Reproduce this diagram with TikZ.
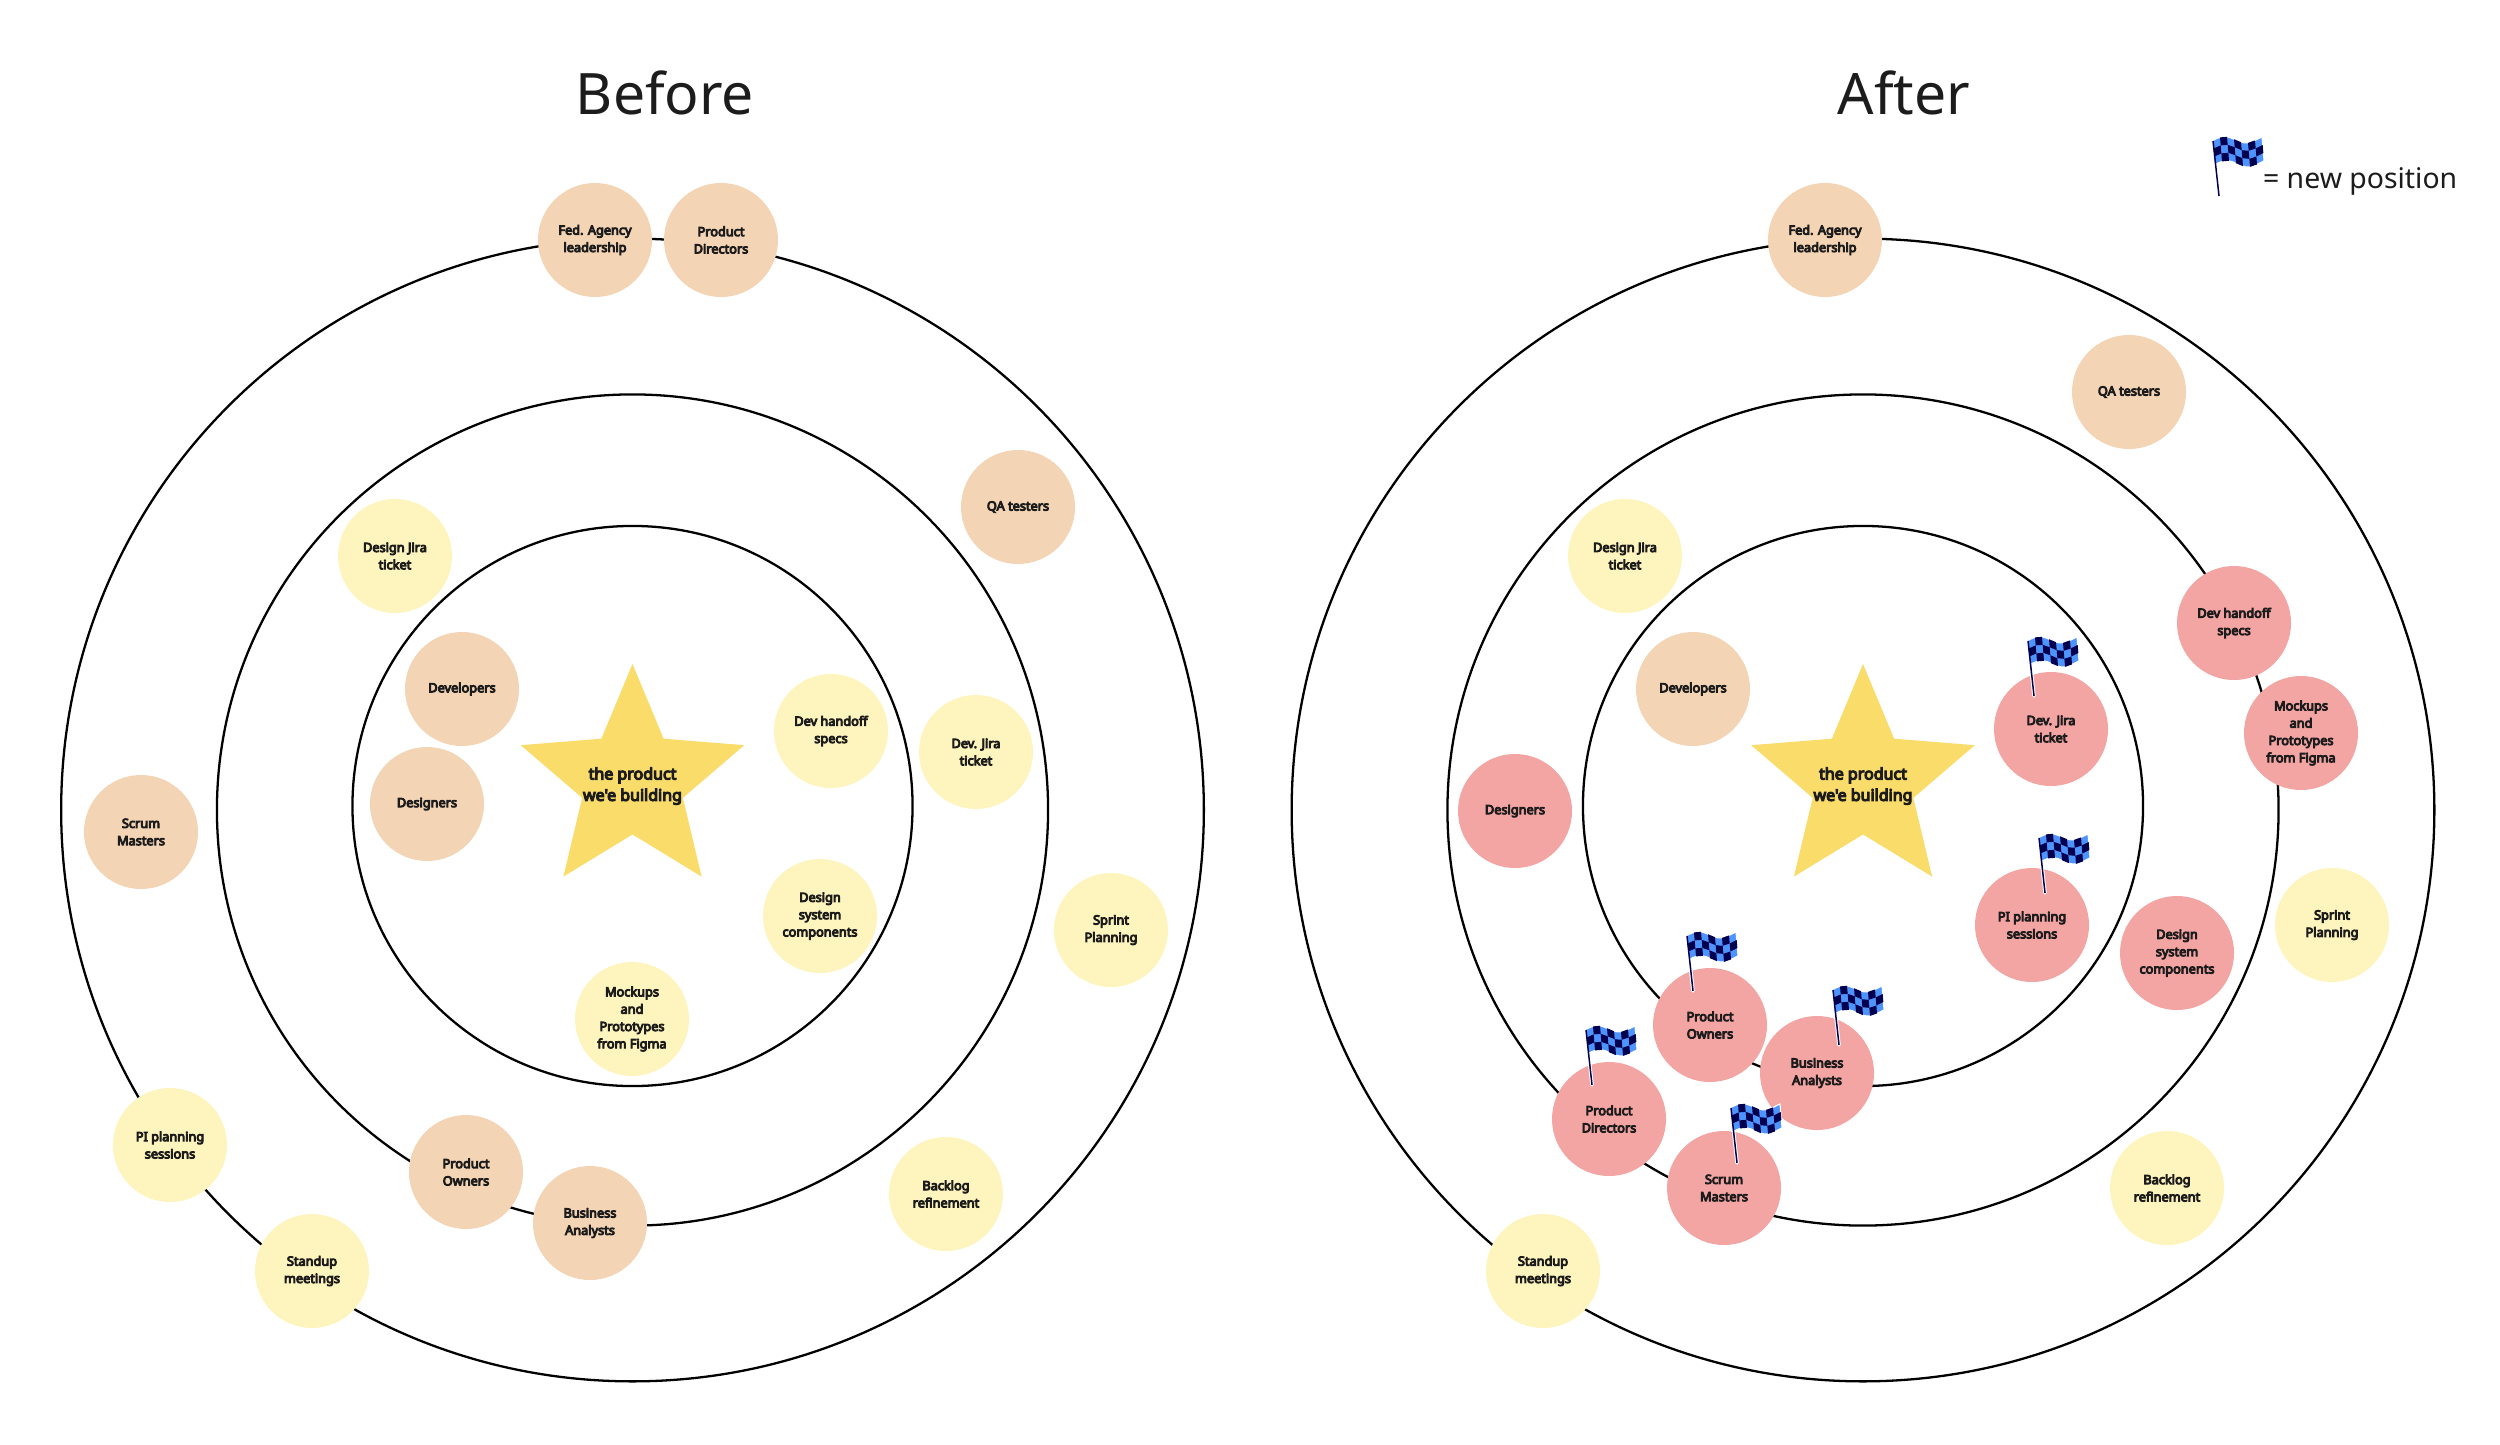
\documentclass[tikz,border=0pt]{standalone}
\usepackage{fontspec}
\newfontfamily\notofont{Noto Sans}
\newfontfamily\notobold{Noto Sans}[FakeBold=7]
\usetikzlibrary{shapes.geometric}
\definecolor{tan}{HTML}{F3D4B5}
\definecolor{lemon}{HTML}{FEF4BE}
\definecolor{rose}{HTML}{F3A5A3}
\definecolor{gold}{HTML}{FADC6A}
\definecolor{ink}{HTML}{1C1C1C}
\definecolor{flagblue}{HTML}{4D94FF}
\definecolor{flagnavy}{HTML}{00004F}
\tikzset{
  declare function={flagy(\t)=-55.5-3.5*sin(396*\t)-1.5*\t;},
  pics/newflag/.style={code={
    \draw[white,line width=4pt,line cap=round] (0,0) -- (-6,-55);
    \fill[flagblue,draw=white,line width=1.2pt] plot[domain=0:1,samples=15] ({-6+49*\x},{flagy(\x)})
      -- plot[domain=1:0,samples=15] ({-4+49*\x},{flagy(\x)+24});
    \foreach \c in {0,...,6}{
      \foreach \r in {0,1,2}{
        \pgfmathtruncatemacro{\odd}{mod(\c+\r,2)}
        \ifnum\odd=1
          \fill[flagnavy]
            ({-6+7*\c+2*\r/3},{flagy(\c/7)+8*\r})
            -- ({1+7*\c+2*\r/3},{flagy((\c+1)/7)+8*\r})
            -- ({1+7*\c+2*(\r+1)/3},{flagy((\c+1)/7)+8*(\r+1)})
            -- ({-6+7*\c+2*(\r+1)/3},{flagy(\c/7)+8*(\r+1)}) -- cycle;
        \fi
      }
    }
    \draw[flagnavy,line width=1.7pt] (0,0) -- (-6,-55);
  }}
}
\begin{document}
\begin{tikzpicture}[x=0.04cm,y=-0.04cm,
  ring/.style={circle,draw=black,line width=2.6pt,inner sep=0pt,outer sep=0pt},
  inner ring/.style={ring,minimum size=22.4cm},
  middle ring/.style={ring,minimum size=33.24cm},
  outer ring/.style={ring,minimum size=45.7cm},
  bubble/.style={circle,inner sep=0pt,minimum size=4.56cm,align=center,text=ink,
    font=\notobold\fontsize{14.5}{19.7}\selectfont},
  people/.style={bubble,fill=tan},
  work/.style={bubble,fill=lemon},
  moved/.style={bubble,fill=rose},
  product/.style={star,star points=5,star point ratio=2.22,inner sep=0pt,minimum size=9.4cm,fill=gold},
  producttext/.style={align=center,text=ink,font=\notobold\fontsize{18.2}{24.3}\selectfont},
  title/.style={anchor=base,text=ink,font=\notofont\fontsize{65}{72}\selectfont}]
\useasboundingbox (0,0) rectangle (2500,1444);

\node[title] (before) at (665,115) {Before};
\node[title] (after) at (1904,115) {After};
\node[anchor=base west,text=ink,font=\notofont\fontsize{32.3}{38}\selectfont] (legend) at (2260,188.5) {= new position};
\pic at (2219,196) {newflag};

\node[outer ring] (outerB) at (632.5,810) {};
\node[middle ring] (middleB) at (632.5,810) {};
\node[inner ring] (innerB) at (632.5,806) {};
\node[product] (starB) at (632.5,781.5) {};
\node[producttext] (starBtext) at (632.5,786) {the product\\we'e building};

\node[people] (fedB) at (595,240) {Fed. Agency\\leadership};
\node[people] (directorsB) at (721,240) {Product\\Directors};
\node[people] (qaB) at (1018,507) {QA testers};
\node[work] (jiraB) at (395,556) {Design Jira\\ticket};
\node[people] (developersB) at (462,689) {Developers};
\node[people] (designersB) at (427,804) {Designers};
\node[work] (handoffB) at (831,731) {Dev handoff\\specs};
\node[work] (devjiraB) at (976,752) {Dev. Jira\\ticket};
\node[work] (systemB) at (820,916) {Design\\system\\components};
\node[work] (mockupsB) at (632,1019) {Mockups\\and\\Prototypes\\from Figma};
\node[work] (sprintB) at (1111,930) {Sprint\\Planning};
\node[people] (scrumB) at (141,832) {Scrum\\Masters};
\node[work] (piB) at (170,1145) {PI planning\\sessions};
\node[work] (standupB) at (312,1271) {Standup\\meetings};
\node[people] (ownersB) at (466,1172) {Product\\Owners};
\node[people] (analystsB) at (590,1223) {Business\\Analysts};
\node[work] (backlogB) at (946,1194) {Backlog\\refinement};

\node[outer ring] (outerA) at (1863,810) {};
\node[middle ring] (middleA) at (1863,810) {};
\node[inner ring] (innerA) at (1863,806) {};
\node[product] (starA) at (1863,781.5) {};
\node[producttext] (starAtext) at (1863,786) {the product\\we'e building};

\node[people] (fedA) at (1825,240) {Fed. Agency\\leadership};
\node[people] (qaA) at (2129,392) {QA testers};
\node[work] (jiraA) at (1625,556) {Design Jira\\ticket};
\node[people] (developersA) at (1693,689) {Developers};
\node[moved] (designersA) at (1515,811) {Designers};
\node[moved] (handoffA) at (2234,623) {Dev handoff\\specs};
\node[moved] (mockupsA) at (2301,733) {Mockups\\and\\Prototypes\\from Figma};
\node[moved] (devjiraA) at (2051,729) {Dev. Jira\\ticket};
\node[moved] (piA) at (2032,925) {PI planning\\sessions};
\node[moved] (systemA) at (2177,953) {Design\\system\\components};
\node[work] (sprintA) at (2332,925) {Sprint\\Planning};
\node[work] (backlogA) at (2167,1188) {Backlog\\refinement};
\node[moved] (ownersA) at (1710,1025) {Product\\Owners};
\node[moved] (analystsA) at (1817,1073) {Business\\Analysts};
\node[moved] (directorsA) at (1609,1119) {Product\\Directors};
\node[moved] (scrumA) at (1724,1188) {Scrum\\Masters};
\node[work] (standupA) at (1543,1271) {Standup\\meetings};

\pic at (2034,696) {newflag};
\pic at (2045,893) {newflag};
\pic at (1693,991) {newflag};
\pic at (1839,1045) {newflag};
\pic at (1592,1085) {newflag};
\pic at (1737,1163) {newflag};
\end{tikzpicture}
\end{document}
